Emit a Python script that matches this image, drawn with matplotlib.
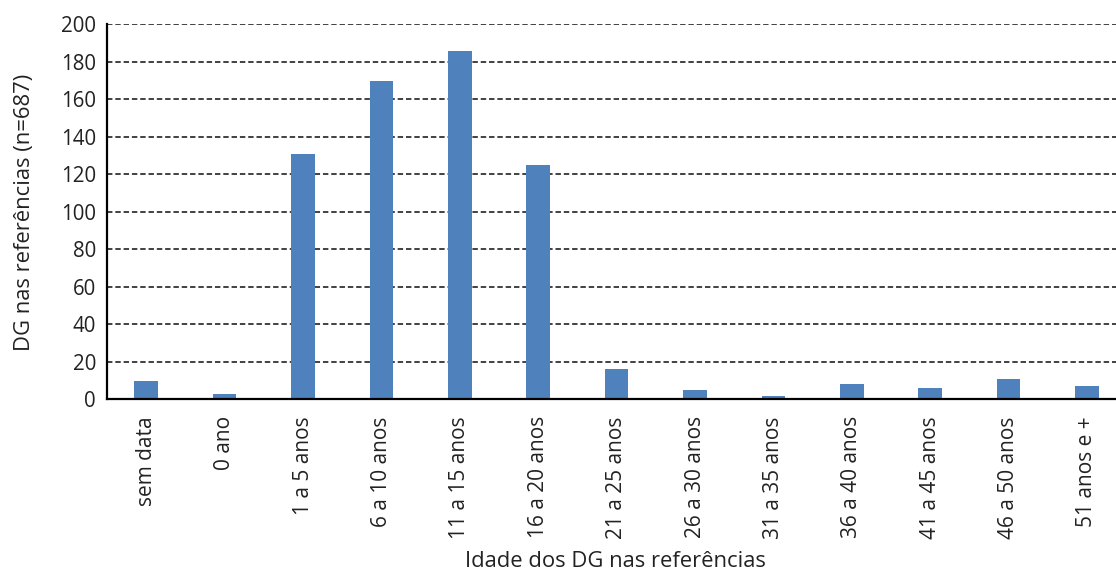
import matplotlib
matplotlib.use("Agg")
import matplotlib.pyplot as plt
import numpy as np

plt.rcParams['font.family'] = ['Open Sans', 'DejaVu Sans']

# faixas de idade e contagens
faixas = ['sem data', '0 ano', '1 a 5 anos', '6 a 10 anos', '11 a 15 anos',
          '16 a 20 anos', '21 a 25 anos', '26 a 30 anos', '31 a 35 anos',
          '36 a 40 anos', '41 a 45 anos', '46 a 50 anos', '51 anos e +']
contagens = [10, 3, 131, 170, 186, 125, 16, 5, 2, 8, 6, 11, 7]
yticks = [0, 20, 40, 60, 80, 100, 120, 140, 160, 180, 200]

fig = plt.figure(figsize=(11.16, 5.72), dpi=100)
ax = fig.add_axes([0.0959, 0.3016, 0.9041, 0.6559])

x = np.arange(len(faixas))
ax.bar(x, contagens, width=0.3, color='#4f81bd', zorder=3)

ax.set_ylim(0, 200)
ax.set_xlim(-0.5, 12.37)
ax.set_yticks(yticks)
ax.set_xticks(x)
ax.set_xticklabels(faixas, rotation=90, fontsize=15, color='#222222')
ax.tick_params(axis='y', labelsize=14.8, length=0, pad=8, labelcolor='#222222')
ax.tick_params(axis='x', length=0, pad=12)

for y in yticks[1:]:
    ax.axhline(y, color='#333333', lw=1.3, dashes=(3.0, 1.6), zorder=1)

for s in ['top', 'right']:
    ax.spines[s].set_visible(False)
for s in ['left', 'bottom']:
    ax.spines[s].set_linewidth(1.6)
    ax.spines[s].set_color('black')
    ax.spines[s].set_zorder(4)

ax.set_ylabel('DG nas referências (n=687)', fontsize=15.8, color='#222222')
ax.yaxis.set_label_coords(-0.071, 0.5)
ax.set_xlabel('Idade dos DG nas referências', fontsize=15.8, color='#222222')
ax.xaxis.set_label_coords(0.504, -0.404)

fig.savefig('out.png', dpi=100)
